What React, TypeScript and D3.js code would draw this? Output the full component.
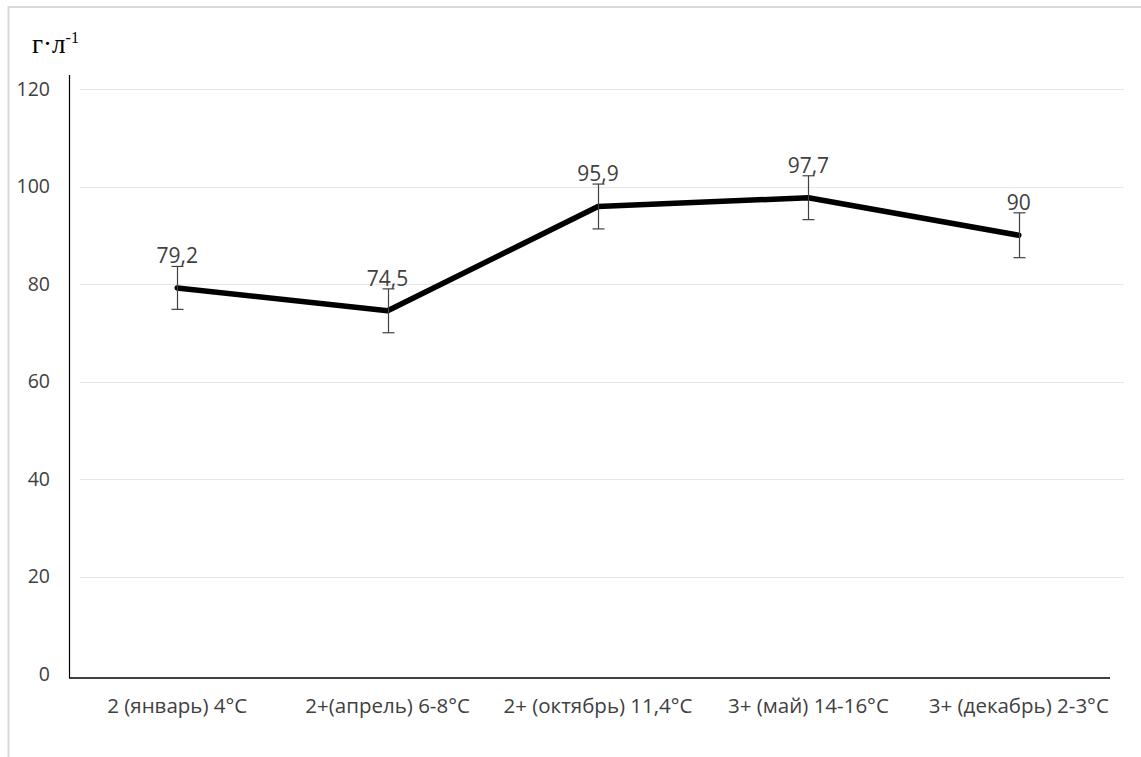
import React, { useEffect, useRef } from "react";
import * as d3 from "d3";

// Stage / temperature categories along the x axis
const categories: string[] = [
  "2 (январь) 4°C",
  "2+(апрель) 6-8°C",
  "2+ (октябрь) 11,4°C",
  "3+ (май) 14-16°C",
  "3+ (декабрь) 2-3°C",
];
// Mean concentration, g·l⁻¹
const values: number[] = [79.2, 74.5, 95.9, 97.7, 90];
// Error bar half-widths
const errors: number[] = [4.4, 4.5, 4.6, 4.5, 4.6];
// Value labels as printed
const valueLabels: string[] = ["79,2", "74,5", "95,9", "97,7", "90"];
// Y axis ticks
const yTicks: number[] = [0, 20, 40, 60, 80, 100, 120];

const W = 1141;
const H = 757;
const FONT = "'Open Sans', 'Noto Sans', sans-serif";
const TEXT = "#404040";

export default function App() {
  const ref = useRef<SVGSVGElement | null>(null);

  useEffect(() => {
    const svg = d3.select(ref.current);
    svg.selectAll("*").remove();

    const x = d3.scalePoint<string>().domain(categories).range([72, 1124]).padding(0.5);
    const y = d3.scaleLinear().domain([0, 120]).range([674, 89]);

    // chart frame
    svg
      .append("rect")
      .attr("x", 8.5)
      .attr("y", 7)
      .attr("width", W + 20)
      .attr("height", H + 20)
      .attr("fill", "#fff")
      .attr("stroke", "#d9d9d9")
      .attr("stroke-width", 2);

    // gridlines
    svg
      .append("g")
      .selectAll("line")
      .data(yTicks.filter((t) => t > 0))
      .join("line")
      .attr("x1", 80)
      .attr("x2", 1124)
      .attr("y1", (d) => Math.round(y(d)) + 0.5)
      .attr("y2", (d) => Math.round(y(d)) + 0.5)
      .attr("stroke", "#e6e6e6")
      .attr("stroke-width", 1);

    // y tick labels
    svg
      .append("g")
      .selectAll("text")
      .data(yTicks)
      .join("text")
      .attr("x", 50)
      .attr("y", (d) => y(d))
      .attr("dy", "0.35em")
      .attr("text-anchor", "end")
      .attr("font-family", FONT)
      .attr("font-size", 19.5)
      .attr("fill", TEXT)
      .text((d) => String(d));

    // axes lines
    svg
      .append("line")
      .attr("x1", 69.5)
      .attr("x2", 69.5)
      .attr("y1", 75)
      .attr("y2", 678)
      .attr("stroke", "#000")
      .attr("stroke-width", 1.2);
    svg
      .append("line")
      .attr("x1", 69)
      .attr("x2", 1110)
      .attr("y1", 678)
      .attr("y2", 678)
      .attr("stroke", "#000")
      .attr("stroke-width", 1.5);

    // x category labels
    svg
      .append("g")
      .selectAll("text")
      .data(categories)
      .join("text")
      .attr("x", (d) => x(d) as number)
      .attr("y", 713)
      .attr("text-anchor", "middle")
      .attr("font-family", FONT)
      .attr("font-size", 20.5)
      .attr("fill", TEXT)
      .text((d) => d);

    // y axis unit
    const unit = svg
      .append("text")
      .attr("x", 32)
      .attr("y", 53)
      .attr("font-family", "'Liberation Serif', 'DejaVu Serif', serif")
      .attr("font-size", 27)
      .attr("fill", "#000");
    unit.append("tspan").text("г·л");
    unit.append("tspan").attr("font-size", 16).attr("dy", -10).text("-1");

    const pts = categories.map((c, i) => ({ c, v: values[i], e: errors[i], l: valueLabels[i] }));

    // series line
    const line = d3
      .line<{ c: string; v: number }>()
      .x((d) => x(d.c) as number)
      .y((d) => y(d.v));
    svg
      .append("path")
      .datum(pts)
      .attr("d", line)
      .attr("fill", "none")
      .attr("stroke", "#000")
      .attr("stroke-width", 5.5)
      .attr("stroke-linejoin", "round")
      .attr("stroke-linecap", "round");

    // error bars
    const eb = svg.append("g").attr("stroke", "#404040").attr("stroke-width", 1.2);
    pts.forEach((p) => {
      const cx = Math.round(x(p.c) as number) + 0.5;
      const top = y(p.v + p.e);
      const bot = y(p.v - p.e);
      eb.append("line").attr("x1", cx).attr("x2", cx).attr("y1", top).attr("y2", bot);
      eb.append("line").attr("x1", cx - 6).attr("x2", cx + 6).attr("y1", top).attr("y2", top);
      eb.append("line").attr("x1", cx - 6).attr("x2", cx + 6).attr("y1", bot).attr("y2", bot);
    });

    // value labels
    svg
      .append("g")
      .selectAll("text")
      .data(pts)
      .join("text")
      .attr("x", (d) => x(d.c) as number)
      .attr("y", (d) => y(d.v) - 25)
      .attr("text-anchor", "middle")
      .attr("font-family", FONT)
      .attr("font-size", 21)
      .attr("fill", TEXT)
      .text((d) => d.l);
  }, []);

  return (
    <svg
      ref={ref}
      width={W}
      height={H}
      style={{ position: "absolute", left: 0, top: 0, background: "#fff" }}
    />
  );
}
